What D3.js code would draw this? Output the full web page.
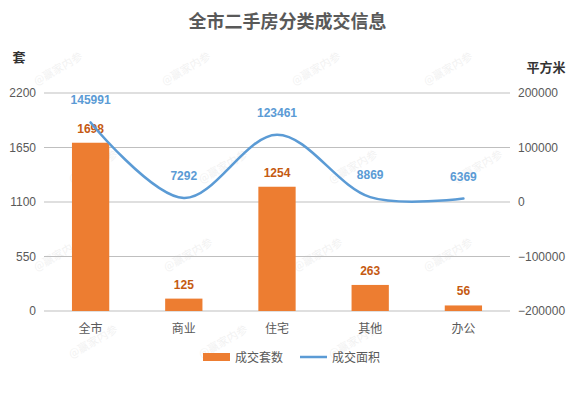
<!DOCTYPE html>
<html>
<head>
<meta charset="utf-8">
<script src="https://cdn.jsdelivr.net/npm/d3@7"></script>
<style>
  body { margin: 0; background: #fff; }
  text { font-family: "Noto Sans CJK SC", "Microsoft YaHei", sans-serif; }
</style>
</head>
<body>
<div id="chart"></div>
<script>
const categories = ['全市', '商业', '住宅', '其他', '办公'];
const counts = [1698, 125, 1254, 263, 56];
const areas = [145991, 7292, 123461, 8869, 6369];
const leftTicks = [0, 550, 1100, 1650, 2200];
const rightTicks = [-200000, -100000, 0, 100000, 200000];

const width = 575, height = 393;
const margin = { top: 93, right: 65, bottom: 82, left: 44 };

const svg = d3.select('#chart').append('svg')
    .attr('width', width)
    .attr('height', height);

const x = d3.scaleBand()
    .domain(categories)
    .range([margin.left, width - margin.right])
    .paddingInner(0.6)
    .paddingOuter(0.3);

const yLeft = d3.scaleLinear().domain([0, 2200]).range([height - margin.bottom, margin.top]);
const yRight = d3.scaleLinear().domain([-200000, 200000]).range([height - margin.bottom, margin.top]);

// watermarks
const marks = [[60, 72], [188, 72], [318, 72], [450, 72], [95, 170], [225, 170], [355, 170], [480, 170],
               [60, 258], [190, 258], [320, 258], [450, 258], [95, 345], [225, 345], [355, 345]];
svg.append('g').selectAll('text')
    .data(marks)
    .enter().append('text')
    .attr('transform', d => `translate(${d[0]},${d[1]}) rotate(-30)`)
    .attr('text-anchor', 'middle')
    .style('font-size', '11px')
    .style('fill', '#000')
    .style('opacity', 0.05)
    .text('@赢家内参');

// title
svg.append('text')
    .attr('x', width / 2)
    .attr('y', 28)
    .attr('text-anchor', 'middle')
    .style('font-size', '18px')
    .style('font-weight', 'bold')
    .style('fill', '#595959')
    .text('全市二手房分类成交信息');

svg.append('text')
    .attr('x', 19).attr('y', 62)
    .attr('text-anchor', 'middle')
    .style('font-size', '13px').style('font-weight', 'bold').style('fill', '#333')
    .text('套');

svg.append('text')
    .attr('x', 546).attr('y', 72)
    .attr('text-anchor', 'middle')
    .style('font-size', '13px').style('font-weight', 'bold').style('fill', '#333')
    .text('平方米');

// gridlines
svg.append('g').selectAll('line')
    .data(leftTicks)
    .enter().append('line')
    .attr('x1', margin.left).attr('x2', width - margin.right)
    .attr('y1', d => yLeft(d)).attr('y2', d => yLeft(d))
    .style('stroke', '#bfbfbf')
    .style('stroke-width', 1);

// left axis
const axisL = svg.append('g')
    .attr('transform', `translate(${margin.left},0)`)
    .call(d3.axisLeft(yLeft).tickValues(leftTicks).tickSize(0).tickPadding(8).tickFormat(d3.format('d')));
axisL.select('.domain').remove();
axisL.selectAll('text').style('font-size', '12px').style('fill', '#595959')
    .style('font-family', 'Liberation Sans, Arial, sans-serif');

// right axis
const axisR = svg.append('g')
    .attr('transform', `translate(${width - margin.right},0)`)
    .call(d3.axisRight(yRight).tickValues(rightTicks).tickSize(0).tickPadding(8).tickFormat(d3.format('d')));
axisR.select('.domain').remove();
axisR.selectAll('text').style('font-size', '12px').style('fill', '#595959')
    .style('font-family', 'Liberation Sans, Arial, sans-serif')
    .text(d => d < 0 ? '\u2212' + Math.abs(d) : d);

// bottom axis labels
svg.append('g').selectAll('text')
    .data(categories)
    .enter().append('text')
    .attr('x', d => x(d) + x.bandwidth() / 2)
    .attr('y', height - margin.bottom + 22)
    .attr('text-anchor', 'middle')
    .style('font-size', '12px')
    .style('fill', '#595959')
    .text(d => d);

// bars
svg.append('g').selectAll('rect')
    .data(counts)
    .enter().append('rect')
    .attr('x', (d, i) => x(categories[i]))
    .attr('y', d => yLeft(d))
    .attr('width', x.bandwidth())
    .attr('height', d => yLeft(0) - yLeft(d))
    .style('fill', '#ED7D31');

// bar labels
svg.append('g').selectAll('text')
    .data(counts)
    .enter().append('text')
    .attr('x', (d, i) => x(categories[i]) + x.bandwidth() / 2)
    .attr('y', d => yLeft(d) - 10)
    .attr('text-anchor', 'middle')
    .style('font-size', '12px')
    .style('font-weight', 'bold')
    .style('fill', '#C55A11')
    .style('font-family', 'Liberation Sans, Arial, sans-serif')
    .text(d => d);

// line
const line = d3.line()
    .x((d, i) => x(categories[i]) + x.bandwidth() / 2)
    .y(d => yRight(d))
    .curve(d3.curveCatmullRom.alpha(0.5));

svg.append('path')
    .datum(areas)
    .attr('d', line)
    .style('fill', 'none')
    .style('stroke', '#5B9BD5')
    .style('stroke-width', 2.5)
    .style('stroke-linecap', 'round');

svg.append('g').selectAll('text')
    .data(areas)
    .enter().append('text')
    .attr('x', (d, i) => x(categories[i]) + x.bandwidth() / 2)
    .attr('y', d => yRight(d) - 18)
    .attr('text-anchor', 'middle')
    .style('font-size', '12px')
    .style('font-weight', 'bold')
    .style('fill', '#5B9BD5')
    .style('font-family', 'Liberation Sans, Arial, sans-serif')
    .text(d => d);

// legend
const legend = svg.append('g').attr('transform', 'translate(0,357)');
legend.append('rect')
    .attr('x', 203).attr('y', -4).attr('width', 27).attr('height', 8)
    .style('fill', '#ED7D31');
legend.append('text')
    .attr('x', 235).attr('y', 5)
    .style('font-size', '12px').style('fill', '#595959')
    .text('成交套数');
legend.append('line')
    .attr('x1', 300).attr('x2', 327).attr('y1', 0).attr('y2', 0)
    .style('stroke', '#5B9BD5').style('stroke-width', 2.5);
legend.append('text')
    .attr('x', 332).attr('y', 5)
    .style('font-size', '12px').style('fill', '#595959')
    .text('成交面积');
</script>
</body>
</html>
